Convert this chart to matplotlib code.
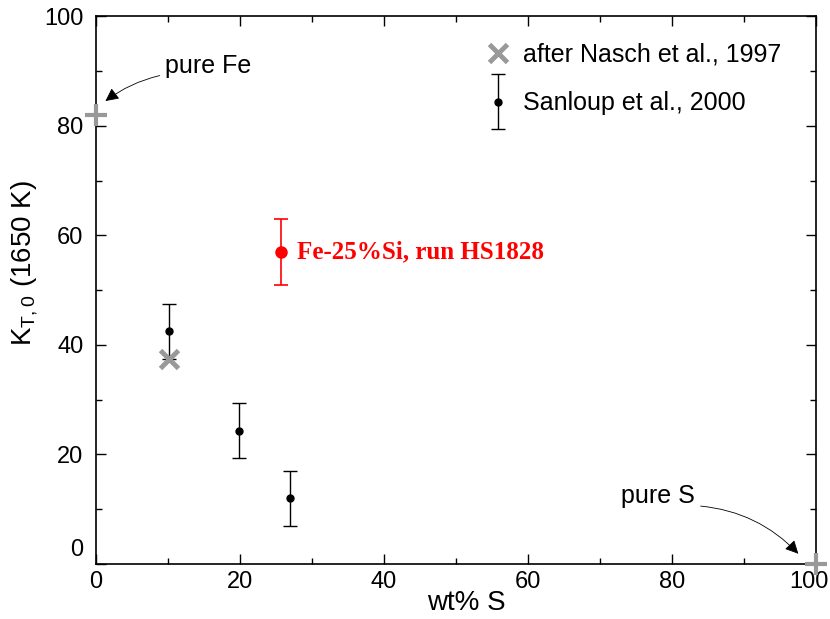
import numpy as np
import matplotlib.pyplot as plt
import matplotlib.transforms as mtransforms
from matplotlib.legend_handler import HandlerErrorbar
from matplotlib.ticker import MultipleLocator

# Sanloup et al., 2000
sanloup_x = [10.2, 19.9, 26.9]
sanloup_y = [42.5, 24.3, 12.0]
sanloup_err = [5.0, 5.0, 5.0]

# after Nasch et al., 1997
nasch_x = [10.2]
nasch_y = [37.5]

# this work
run_x = [25.7]
run_y = [56.9]
run_err = [6.0]

# end members
pure_x = [0, 100]
pure_y = [82, 0]

plt.rcParams['font.family'] = ['Liberation Sans', 'DejaVu Sans']

fig = plt.figure(figsize=(8.3, 6.19), dpi=100)
ax = fig.add_axes([0.1157, 0.0889, 0.8675, 0.885])

ax.plot(nasch_x, nasch_y, 'x', color='#999999', ms=13, mew=3.5,
        label='after Nasch et al., 1997', zorder=4)
ax.errorbar(sanloup_x, sanloup_y, yerr=sanloup_err, fmt='o', color='black',
            ecolor='black', elinewidth=1.0, capsize=5, capthick=1.0, ms=5,
            label='Sanloup et al., 2000', zorder=3)
ax.errorbar(run_x, run_y, yerr=run_err, fmt='o', color='red', ecolor='red',
            elinewidth=1.2, capsize=5, capthick=1.2, ms=8, zorder=3)
ax.plot(pure_x, pure_y, '+', color='#999999', ms=16, mew=3, clip_on=False, zorder=5)

ax.text(run_x[0] + 2.2, run_y[0], 'Fe-25%Si, run HS1828', color='red',
        family=['Liberation Serif', 'DejaVu Serif'], fontweight='bold',
        fontsize=18, va='center', ha='left')

ax.annotate('pure Fe', xy=(1.0, 84.2), xytext=(9.6, 90.9), fontsize=18,
            ha='left', va='center',
            arrowprops=dict(arrowstyle='-|>', color='black', lw=0.6,
                            mutation_scale=20, relpos=(0.0, 0.15),
                            connectionstyle='arc3,rad=0.12'))
ax.annotate('pure S', xy=(97.8, 1.5), xytext=(83.2, 12.4), fontsize=18,
            ha='right', va='center',
            arrowprops=dict(arrowstyle='-|>', color='black', lw=0.6,
                            mutation_scale=20, relpos=(1.0, 0.1),
                            connectionstyle='arc3,rad=-0.2'))

ax.set_xlim(0, 100)
ax.set_ylim(0, 100)
ax.set_xticks(np.arange(0, 101, 20))
ax.set_yticks(np.arange(0, 101, 20))
ax.xaxis.set_minor_locator(MultipleLocator(10))
ax.yaxis.set_minor_locator(MultipleLocator(10))
ax.tick_params(which='both', direction='in', top=True, right=True, labelsize=17,
               width=1.0)
ax.tick_params(which='major', length=7)
ax.tick_params(axis='x', which='major', pad=5)
ax.tick_params(axis='y', which='major', pad=9)
ax.tick_params(which='minor', length=4)
for s in ax.spines.values():
    s.set_linewidth(1.2)

# small label shifts as in the original
lab = ax.get_xticklabels()[-1]
lab.set_transform(lab.get_transform() +
                  mtransforms.ScaledTranslation(-7 / 100, 0, fig.dpi_scale_trans))
lab = ax.get_yticklabels()[0]
lab.set_transform(lab.get_transform() +
                  mtransforms.ScaledTranslation(0, 16 / 100, fig.dpi_scale_trans))

ax.set_xlabel('wt% S', fontsize=20)
ax.xaxis.set_label_coords(0.514, -0.047)
ax.set_ylabel(r'K$_{\mathregular{T,0}}$ (1650 K)', fontsize=20)
ax.yaxis.set_label_coords(-0.077, 0.55)

ax.legend(loc='upper left', bbox_to_anchor=(0.541, 0.952), frameon=False,
          fontsize=18, handlelength=1.0, handletextpad=0.5, labelspacing=1.0,
          borderaxespad=0, borderpad=0,
          handler_map={type(ax.containers[0]): HandlerErrorbar(yerr_size=1.1)})

fig.savefig('out.png', dpi=100)
